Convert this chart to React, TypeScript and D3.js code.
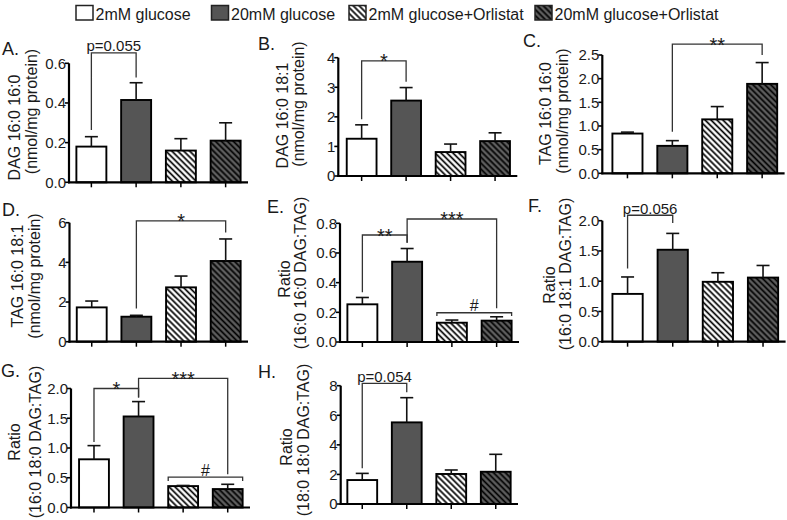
import React from "react";
import * as d3 from "d3";

// ---------- data ----------
const groups = ["2mM glucose", "20mM glucose", "2mM glucose+Orlistat", "20mM glucose+Orlistat"];
const panelLetters = ["A.", "B.", "C.", "D.", "E.", "F.", "G.", "H."];

const meanA = [0.18, 0.415, 0.16, 0.21];
const semA = [0.05, 0.087, 0.06, 0.09];
const meanB = [1.26, 2.55, 0.81, 1.18];
const semB = [0.47, 0.44, 0.27, 0.28];
const meanC = [0.84, 0.58, 1.14, 1.89];
const semC = [0.03, 0.11, 0.27, 0.45];
const meanD = [1.73, 1.26, 2.74, 4.07];
const semD = [0.32, 0.07, 0.57, 1.11];
const meanE = [0.254, 0.541, 0.13, 0.144];
const semE = [0.046, 0.089, 0.018, 0.026];
const meanF = [0.79, 1.52, 0.99, 1.06];
const semF = [0.28, 0.27, 0.15, 0.2];
const meanG = [0.81, 1.53, 0.36, 0.31];
const semG = [0.23, 0.25, 0.01, 0.08];
const meanH = [1.62, 5.52, 2.03, 2.18];
const semH = [0.45, 1.67, 0.27, 1.18];

const ticksA = [0, 0.2, 0.4, 0.6];
const ticksB = [0, 1, 2, 3, 4];
const ticksC = [0, 0.5, 1, 1.5, 2, 2.5];
const ticksD = [0, 2, 4, 6];
const ticksE = [0, 0.2, 0.4, 0.6, 0.8];
const ticksF = [0, 0.5, 1, 1.5, 2];
const ticksG = [0, 0.5, 1, 1.5, 2];
const ticksH = [0, 2, 4, 6, 8];

const titleA = ["DAG 16:0 16:0", "(nmol/mg protein)"];
const titleB = ["DAG 16:0 18:1", "(nmol/mg protein)"];
const titleC = ["TAG 16:0 16:0", "(nmol/mg protein)"];
const titleD = ["TAG 16:0 18:1", "(nmol/mg protein)"];
const titleE = ["Ratio", "(16:0 16:0 DAG:TAG)"];
const titleF = ["Ratio", "(16:0 18:1 DAG:TAG)"];
const titleG = ["Ratio", "(16:0 18:0 DAG:TAG)"];
const titleH = ["Ratio", "(18:0 18:0 DAG:TAG)"];

// significance brackets (value units): from/to group, line level, left/right leg bottoms
const bracketsA = [{ from: 0, to: 1, y: 0.653, l: 0.264, r: 0.529, label: "p=0.055", edge: false }];
const bracketsB = [{ from: 0, to: 1, y: 3.89, l: 1.92, r: 3.19, label: "*", edge: false }];
const bracketsC = [{ from: 1, to: 3, y: 2.73, l: 0.88, r: 2.5, label: "**", edge: false }];
const bracketsD = [{ from: 1, to: 3, y: 6.09, l: 1.68, r: 5.5, label: "*", edge: false }];
const bracketsE = [
  { from: 0, to: 1, y: 0.721, l: 0.335, r: 0.669, label: "**", edge: false },
  { from: 1, to: 3, y: 0.829, l: 0.669, r: 0.227, label: "***", edge: false },
  { from: 2, to: 3, y: 0.197, l: 0.175, r: 0.175, label: "#", edge: true },
];
const bracketsF = [{ from: 0, to: 1, y: 2.09, l: 1.21, r: 1.96, label: "p=0.056", edge: false }];
const bracketsG = [
  { from: 0, to: 1, y: 2.0, l: 1.1, r: 1.85, label: "*", edge: false },
  { from: 1, to: 3, y: 2.17, l: 1.85, r: 0.56, label: "***", edge: false },
  { from: 2, to: 3, y: 0.51, l: 0.445, r: 0.445, label: "#", edge: true },
];
const bracketsH = [{ from: 0, to: 1, y: 8.16, l: 2.41, r: 7.55, label: "p=0.054", edge: false }];

// ---------- layout ----------
const layout = [
  { ax: 69, r0: 69, r1: 248, y0: 182.3, yT: 63.3, lx: 2, ly: 55, t1x: 14, t1y: 127.5, t2x: 31, t2y: 111.5, fmt: ".1f" },
  { ax: 338.3, r0: 339.4, r1: 517.3, y0: 176, yT: 57.7, lx: 258, ly: 50, t1x: 282, t1y: 115.5, t2x: 298, t2y: 104, fmt: "d" },
  { ax: 602.3, r0: 605, r1: 784.6, y0: 173.3, yT: 55, lx: 523, ly: 47, t1x: 545, t1y: 113.5, t2x: 562, t2y: 111, fmt: ".1f" },
  { ax: 69.5, r0: 69.4, r1: 248, y0: 341.7, yT: 222.7, lx: 2, ly: 216, t1x: 17.5, t1y: 276, t2x: 34, t2y: 276, fmt: "d" },
  { ax: 340, r0: 340, r1: 519, y0: 342, yT: 223.3, lx: 267, ly: 213, t1x: 284, t1y: 279, t2x: 300, t2y: 273, fmt: ".1f" },
  { ax: 602.3, r0: 605, r1: 785.6, y0: 341.7, yT: 220.7, lx: 528, ly: 212, t1x: 549, t1y: 285, t2x: 565.5, t2y: 274, fmt: ".1f" },
  { ax: 71, r0: 71.7, r1: 250, y0: 507.5, yT: 388.5, lx: 1, ly: 377, t1x: 14.5, t1y: 442, t2x: 35, t2y: 442, fmt: ".1f" },
  { ax: 340.7, r0: 340, r1: 518, y0: 504, yT: 385.7, lx: 258, ly: 378, t1x: 286.5, t1y: 447, t2x: 303, t2y: 440, fmt: "d" },
];

const panelData = [
  { mean: meanA, sem: semA, ticks: ticksA, title: titleA, brackets: bracketsA },
  { mean: meanB, sem: semB, ticks: ticksB, title: titleB, brackets: bracketsB },
  { mean: meanC, sem: semC, ticks: ticksC, title: titleC, brackets: bracketsC },
  { mean: meanD, sem: semD, ticks: ticksD, title: titleD, brackets: bracketsD },
  { mean: meanE, sem: semE, ticks: ticksE, title: titleE, brackets: bracketsE },
  { mean: meanF, sem: semF, ticks: ticksF, title: titleF, brackets: bracketsF },
  { mean: meanG, sem: semG, ticks: ticksG, title: titleG, brackets: bracketsG },
  { mean: meanH, sem: semH, ticks: ticksH, title: titleH, brackets: bracketsH },
];

const fills = ["#ffffff", "#555555", "url(#hatchLight)", "url(#hatchDark)"];
const FONT = "'Liberation Sans', Arial, Helvetica, sans-serif";
const INK = "#1a1a1a";

function Panel({ i }: { i: number }) {
  const L = layout[i];
  const D = panelData[i];
  const yMax = D.ticks[D.ticks.length - 1];
  const y = d3.scaleLinear().domain([0, yMax]).range([L.y0, L.yT]);
  const x = d3.scaleBand<number>().domain([0, 1, 2, 3]).range([L.r0, L.r1]).paddingInner(0.33).paddingOuter(0.165);
  const bw = x.bandwidth();
  const cx = (g: number) => (x(g) as number) + bw / 2;
  const f = d3.format(L.fmt);
  return (
    <g>
      <text x={L.lx} y={L.ly} fontSize={18} fontFamily={FONT} fill={INK}>{panelLetters[i]}</text>
      <text transform={`translate(${L.t1x},${L.t1y}) rotate(-90)`} textAnchor="middle" dy="0.35em" fontSize={16} fontFamily={FONT} fill={INK}>{D.title[0]}</text>
      <text transform={`translate(${L.t2x},${L.t2y}) rotate(-90)`} textAnchor="middle" dy="0.35em" fontSize={16} fontFamily={FONT} fill={INK}>{D.title[1]}</text>
      {D.mean.map((m, g) => (
        <rect key={"b" + g} x={x(g)} y={y(m)} width={bw} height={L.y0 - y(m)} fill={fills[g]} stroke="#000" strokeWidth={1.9} />
      ))}
      {D.mean.map((m, g) => (
        <g key={"e" + g} stroke="#111" strokeWidth={1.6}>
          <line x1={cx(g)} x2={cx(g)} y1={y(m)} y2={y(m + D.sem[g])} />
          <line x1={cx(g) - 6.5} x2={cx(g) + 6.5} y1={y(m + D.sem[g])} y2={y(m + D.sem[g])} />
        </g>
      ))}
      <line x1={L.ax} x2={L.ax} y1={L.y0 + 1} y2={L.yT} stroke="#000" strokeWidth={2.2} />
      <line x1={L.ax - 1} x2={L.r1} y1={L.y0} y2={L.y0} stroke="#000" strokeWidth={2.2} />
      {D.ticks.map((t) => (
        <g key={"t" + t}>
          <line x1={L.ax - 4} x2={L.ax} y1={y(t)} y2={y(t)} stroke="#000" strokeWidth={1.6} />
          <text x={L.ax - 3} y={y(t)} dy="0.36em" textAnchor="end" fontSize={15} fontFamily={FONT} fill={INK}>{f(t)}</text>
        </g>
      ))}
      {[0, 1, 2, 3].map((g) => (
        <line key={"xt" + g} x1={cx(g)} x2={cx(g)} y1={L.y0} y2={L.y0 + 5} stroke="#000" strokeWidth={1.5} />
      ))}
      {D.brackets.map((b, k) => {
        const x1 = b.edge ? (x(b.from) as number) : cx(b.from);
        const x2 = b.edge ? (x(b.to) as number) + bw : cx(b.to);
        const yl = y(b.y);
        const isStar = b.label.startsWith("*");
        const isHash = b.label === "#";
        const ty = isStar ? yl + 7.5 : yl - 1.5;
        return (
          <g key={"k" + k}>
            <path d={`M${x1},${y(b.l)}V${yl}H${x2}V${y(b.r)}`} fill="none" stroke="#333" strokeWidth={1.3} />
            <text x={(x1 + x2) / 2} y={ty} textAnchor="middle" fontSize={isStar ? 20 : isHash ? 16 : 15} fontFamily={FONT} fill={INK}>{b.label}</text>
          </g>
        );
      })}
    </g>
  );
}

const legendBoxX = [76, 211.5, 349, 535];

export default function App() {
  return (
    <svg width={787} height={520} style={{ position: "absolute", left: 0, top: 0, background: "#fff" }}>
      <defs>
        <pattern id="hatchLight" patternUnits="userSpaceOnUse" width={4.2} height={4.2} patternTransform="rotate(-45)">
          <rect width={4.2} height={4.2} fill="#fff" />
          <line x1={2.1} x2={2.1} y1={0} y2={4.2} stroke="#000" strokeWidth={1.7} />
        </pattern>
        <pattern id="hatchDark" patternUnits="userSpaceOnUse" width={4.2} height={4.2} patternTransform="rotate(-45)">
          <rect width={4.2} height={4.2} fill="#5e5e5e" />
          <line x1={2.1} x2={2.1} y1={0} y2={4.2} stroke="#000" strokeWidth={1.7} />
        </pattern>
      </defs>
      <rect width={787} height={520} fill="#fff" />
      {groups.map((g, k) => (
        <g key={g}>
          <rect x={legendBoxX[k]} y={5.5} width={17} height={14.5} fill={fills[k]} stroke="#222" strokeWidth={1.5} />
          <text x={legendBoxX[k] + 19.5} y={19.5} fontSize={16} fontFamily={FONT} fill={INK}>{g}</text>
        </g>
      ))}
      {layout.map((_, i) => (
        <Panel key={i} i={i} />
      ))}
    </svg>
  );
}
